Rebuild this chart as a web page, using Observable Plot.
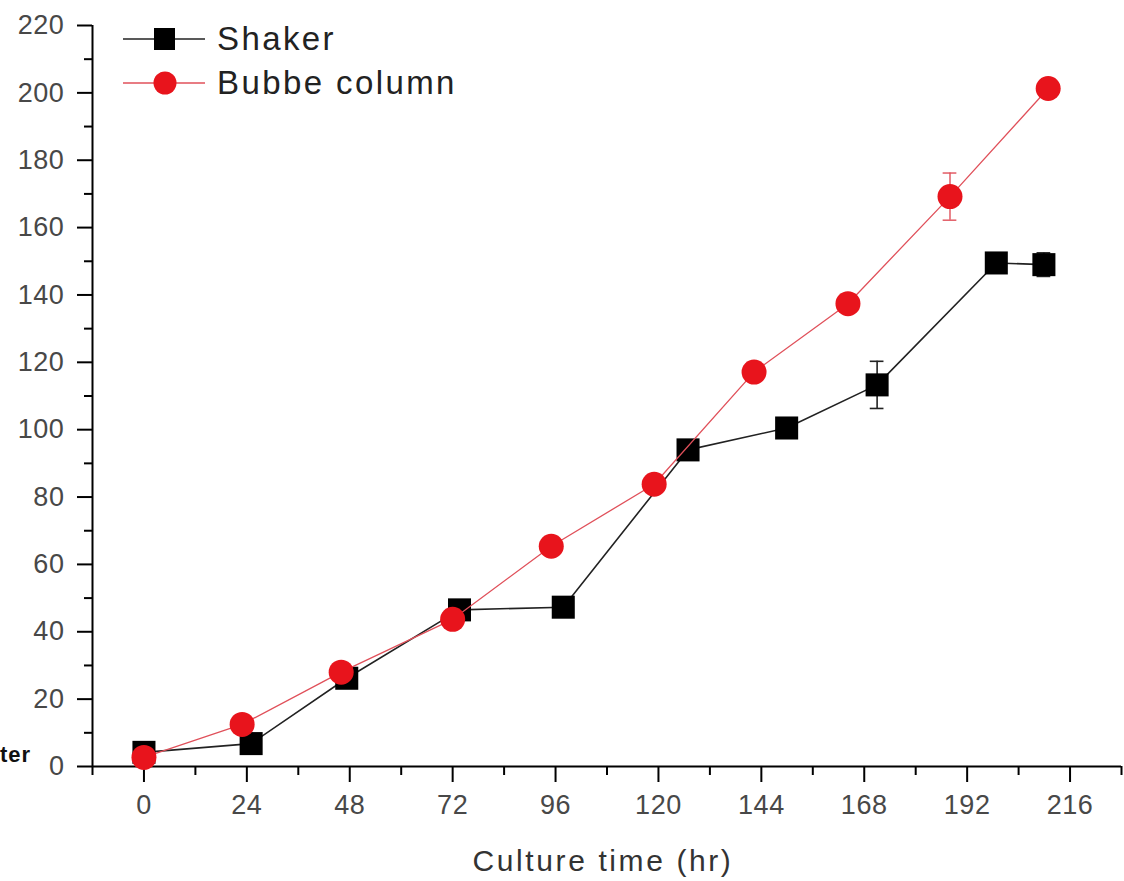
<!DOCTYPE html>
<html>
<head>
<meta charset="utf-8">
<script src="https://cdn.jsdelivr.net/npm/d3@7"></script>
<script src="https://cdn.jsdelivr.net/npm/@observablehq/plot@0.6"></script>
<style>
  html, body { margin: 0; padding: 0; background: #fff; }
  #wrap { position: relative; width: 1124px; height: 881px; font-family: "Liberation Sans", Arial, sans-serif; }
  #legend { position: absolute; left: 123px; top: 17px; }
  .lg { display: flex; align-items: center; height: 44px; font-size: 33px; color: #222; letter-spacing: 2.4px; }
  .lg svg { margin-right: 12px; }
  #frag { position: absolute; left: 0px; top: 742px; font-size: 22px; font-weight: bold; color: #111; letter-spacing: 1px; }
</style>
</head>
<body>
<div id="wrap">
  <div id="chart"></div>
  <div id="frag">ter</div>
  <div id="legend"></div>
</div>
<script>
// Series: Shaker (black squares)
const shakerTime = [0, 25, 47.3, 73.6, 97.8, 126.9, 149.9, 171, 198.8, 209.9];
const shakerValue = [4.2, 6.8, 26.2, 46.5, 47.3, 94, 100.5, 113.3, 149.5, 149];
const shakerErr = [0, 0, 0, 2, 0, 3, 0, 7, 1.5, 3.5];

// Series: Bubbe column (red circles)
const bubbleTime = [0, 22.9, 46, 72, 95, 119, 142.3, 164.2, 188, 210.9];
const bubbleValue = [2.7, 12.5, 28, 43.7, 65.4, 83.8, 117.1, 137.4, 169.2, 201.3];
const bubbleErr = [0, 0, 0, 0, 0, 0, 0, 0, 7, 0];

const xTicks = [0, 24, 48, 72, 96, 120, 144, 168, 192, 216];
const xMinorTicks = [-12, 12, 36, 60, 84, 108, 132, 156, 180, 204, 228];
const yTicks = [0, 20, 40, 60, 80, 100, 120, 140, 160, 180, 200, 220];
const yMinorTicks = [10, 30, 50, 70, 90, 110, 130, 150, 170, 190, 210];

const seriesNames = ["Shaker", "Bubbe column"];
const seriesColors = ["#000000", "#e8141c"];
const lineColors = ["#222222", "#e0505a"];

const shaker = shakerTime.map((t, i) => ({t, v: shakerValue[i], e: shakerErr[i]}));
const bubble = bubbleTime.map((t, i) => ({t, v: bubbleValue[i], e: bubbleErr[i]}));

function errMarks(data, color, w) {
  const d = data.filter(p => p.e > 0);
  return [
    Plot.ruleX(d, {x: "t", y1: p => p.v - p.e, y2: p => p.v + p.e, stroke: color, strokeWidth: w}),
    Plot.ruleY(d, {y: p => p.v + p.e, x1: p => p.t - 1.6, x2: p => p.t + 1.6, stroke: color, strokeWidth: w}),
    Plot.ruleY(d, {y: p => p.v - p.e, x1: p => p.t - 1.6, x2: p => p.t + 1.6, stroke: color, strokeWidth: w})
  ];
}

const chart = Plot.plot({
  width: 1124,
  height: 881,
  marginLeft: 92,
  marginRight: 3,
  marginTop: 25,
  marginBottom: 115,
  style: {fontFamily: "'Liberation Sans', Arial, sans-serif", background: "#fff", fontSize: "27px"},
  x: {domain: [-12, 228]},
  y: {domain: [0, 220]},
  marks: [
    Plot.axisX(xTicks, {tickSize: 16, tickPadding: 12, fontSize: 27, color: "#484848", stroke: "#000", strokeWidth: 2,
      label: "Culture time (hr)", labelAnchor: "center", labelOffset: 104, labelArrow: "none"}),
    Plot.axisX(xMinorTicks, {tickSize: 9, tickFormat: () => "", stroke: "#000", strokeWidth: 2, label: null}),
    Plot.axisY(yTicks, {tickSize: 15, tickPadding: 13, fontSize: 27, color: "#484848", stroke: "#000", strokeWidth: 2, label: null}),
    Plot.axisY(yMinorTicks, {tickSize: 8, tickFormat: () => "", stroke: "#000", strokeWidth: 2, label: null}),
    Plot.ruleY([0], {stroke: "#000", strokeWidth: 2}),
    Plot.ruleX([-12], {stroke: "#000", strokeWidth: 2}),
    Plot.line(shaker, {x: "t", y: "v", stroke: lineColors[0], strokeWidth: 1.6}),
    ...errMarks(shaker, "#222", 1.6),
    Plot.dot(shaker, {x: "t", y: "v", symbol: "square", r: 13, fill: seriesColors[0], stroke: "none"}),
    Plot.line(bubble, {x: "t", y: "v", stroke: lineColors[1], strokeWidth: 1.3}),
    ...errMarks(bubble, "#e0505a", 1.4),
    Plot.dot(bubble, {x: "t", y: "v", symbol: "circle", r: 12.5, fill: seriesColors[1], stroke: "none"})
  ]
});
chart.querySelectorAll("[aria-label='x-axis tick label'] text, [aria-label='y-axis tick label'] text").forEach(el => {
  el.setAttribute("font-size", "27");
  el.style.letterSpacing = "0.6px";
});
chart.querySelectorAll("[aria-label='x-axis label'] text").forEach(el => {
  el.setAttribute("font-size", "30");
  el.setAttribute("fill", "#333");
  el.setAttribute("dx", "-4");
  el.style.letterSpacing = "2.6px";
});
document.getElementById("chart").appendChild(chart);

const legend = document.getElementById("legend");
seriesNames.forEach((name, i) => {
  const row = document.createElement("div");
  row.className = "lg";
  const sym = i === 0
    ? `<rect x="31" y="10" width="21" height="22" fill="${seriesColors[0]}"/>`
    : `<circle cx="42" cy="21" r="11.5" fill="${seriesColors[1]}"/>`;
  row.innerHTML = `<svg width="82" height="42"><line x1="0" x2="82" y1="21" y2="21" stroke="${lineColors[i]}" stroke-width="1.6"/>${sym}</svg><span>${name}</span>`;
  legend.appendChild(row);
});
</script>
</body>
</html>
